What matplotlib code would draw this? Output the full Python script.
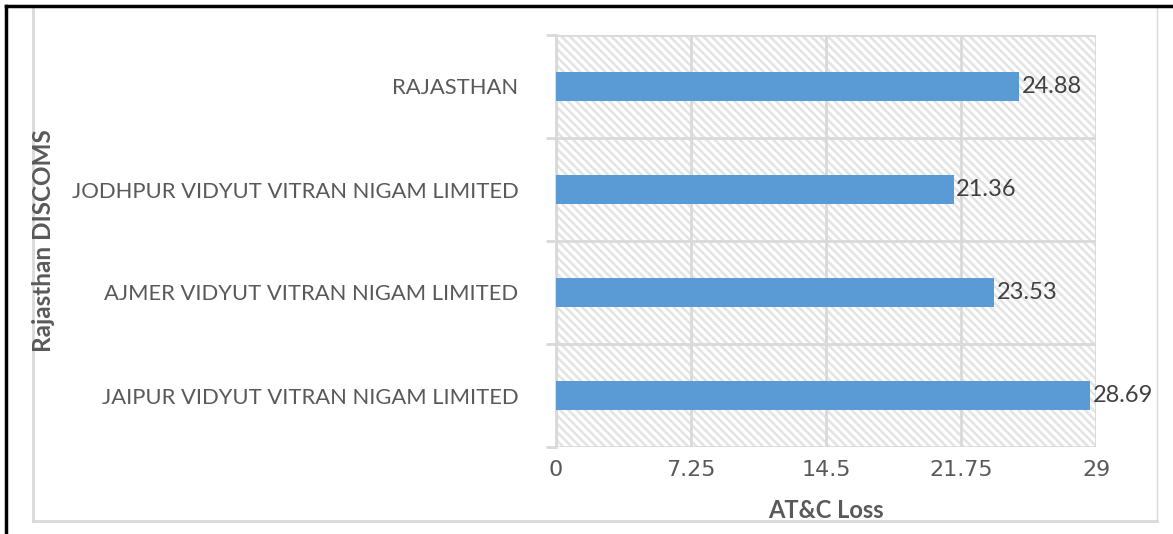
import matplotlib
matplotlib.use("Agg")
import matplotlib.pyplot as plt
from matplotlib.lines import Line2D
import numpy as np

categories = ["JAIPUR VIDYUT VITRAN NIGAM LIMITED",
              "AJMER VIDYUT VITRAN NIGAM LIMITED",
              "JODHPUR VIDYUT VITRAN NIGAM LIMITED",
              "RAJASTHAN"]
values = [28.69, 23.53, 21.36, 24.88]
xticks = [0, 7.25, 14.5, 21.75, 29]
xtick_labels = ["0", "7.25", "14.5", "21.75", "29"]

plt.rcParams['font.family'] = ['Lato', 'DejaVu Sans']
plt.rcParams['hatch.color'] = '#e3e3e3'
plt.rcParams['hatch.linewidth'] = 1.8

W, H = 1173, 534
fig = plt.figure(figsize=(W/100, H/100), dpi=100)

ax = fig.add_axes([556/W, 1-447/H, 540/W, 412/H])
ax.set_xlim(0, 29)
ax.set_ylim(-0.5, len(categories)-0.5)

# hatched background
ax.patch.set_facecolor('white')
bg = plt.Rectangle((0, 0), 1, 1, transform=ax.transAxes, facecolor='white',
                   edgecolor='#e3e3e3', hatch='\\\\\\\\', linewidth=0, zorder=0)
ax.add_patch(bg)

y = np.arange(len(categories))
bars = ax.barh(y, values, height=0.28, color='#5b9bd5', zorder=3)
for yi, v in zip(y, values):
    ax.text(v + 0.12, yi, f"{v:.2f}", va='center', ha='left',
            fontsize=17, color='#404040', zorder=4)

gcol = '#d9d9d9'
ax.set_xticks(xticks)
ax.set_xticklabels(xtick_labels, fontsize=16, color='#595959', family='DejaVu Sans')
ax.tick_params(axis='x', length=0, pad=9)
ax.set_yticks(y)
ax.set_yticklabels(categories, fontsize=15.8, color='#595959')
ax.tick_params(axis='y', which='major', length=0, pad=27)
ax.set_yticks(np.arange(-0.5, len(categories), 1), minor=True)
ax.tick_params(axis='y', which='minor', length=7, width=2, color=gcol)

ax.xaxis.grid(True, color=gcol, linewidth=2, zorder=1)
ax.yaxis.grid(True, which='minor', color=gcol, linewidth=2, zorder=1)
ax.set_axisbelow(True)
for s in ['top', 'right', 'bottom']:
    ax.spines[s].set_visible(False)
ax.spines['left'].set_color(gcol)
ax.spines['left'].set_linewidth(2)

ax.set_xlabel("AT&C Loss", fontsize=17, fontweight='bold', color='#595959', labelpad=14)
fig.text(44/W, 1-241/H, "Rajasthan DISCOMS", rotation=90, ha='center', va='center',
         fontsize=17.5, fontweight='bold', color='#595959')

# inner gray frame
fig.add_artist(Line2D([33/W, 33/W], [1-8/H, 1-521/H], color='#d9d9d9', linewidth=2))
fig.add_artist(Line2D([33/W, 1157/W], [1-521/H, 1-521/H], color='#d9d9d9', linewidth=2))
fig.add_artist(Line2D([1157/W, 1157/W], [1-8/H, 1-521/H], color='#d9d9d9', linewidth=1))
# outer black frame
fig.add_artist(Line2D([5.5/W, 5.5/W], [0, 1-5.5/H], color='black', linewidth=2.5))
fig.add_artist(Line2D([5.5/W, 1], [1-5.5/H, 1-5.5/H], color='black', linewidth=2.5))

fig.savefig("out.png", dpi=100)
